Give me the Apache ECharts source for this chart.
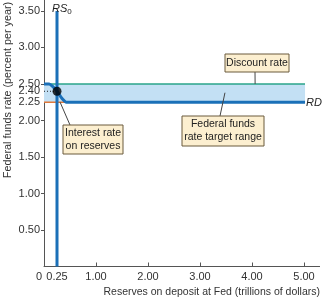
<!DOCTYPE html>
<html><head><meta charset="utf-8">
<script src="https://cdn.jsdelivr.net/npm/echarts@6/dist/echarts.min.js"></script>
<style>html,body{margin:0;padding:0;background:#fff}#c{width:325px;height:300px}</style>
</head><body><div id="c"></div>
<script>
// ---- data ----
const xTickValues = [0, 0.25, 1, 2, 3, 4, 5];
const xMinorTicks = [1, 2, 3, 4, 5];
const yTickValues = [0.5, 1, 1.5, 2, 2.25, 2.4, 2.5, 3, 3.5];
const yMajorTicks = [0.5, 1, 1.5, 2, 2.5, 3, 3.5];
const rdCurve = [[0, 2.5], [0.1, 2.5], [0.16, 2.47], [0.25, 2.40], [0.36, 2.29], [0.43, 2.25], [5.02, 2.25]];
const rsLine = [[0.25, 0], [0.25, 3.5]];
const discountLine = [[0, 2.5], [5.02, 2.5]];
const iorLine = [[0, 2.25], [0.43, 2.25]];
const targetRange = [2.25, 2.5];
const targetRangeX = [0, 5.02];
const equilibrium = [0.25, 2.40];
const dottedGuide = [[0, 2.40], [0.25, 2.40]];

const FONT = 'Liberation Sans';
const BLUE = '#1b70b8';
const chart = echarts.init(document.getElementById('c'));

const option = {
  animation: false,
  grid: { left: 44, right: 5.4, top: 0, bottom: 33.5 },
  xAxis: {
    type: 'value', min: 0, max: 5.3,
    axisLine: { lineStyle: { color: '#555', width: 1 } },
    splitLine: { show: false },
    axisTick: { inside: true, length: 4, customValues: xMinorTicks, lineStyle: { color: '#555' } },
    axisLabel: {
      customValues: xTickValues, margin: 5, color: '#333', fontFamily: FONT, fontSize: 11,
      formatter: v => v === 0 ? '{z|0}' : v.toFixed(2),
      rich: { z: { padding: [0, 10, 0, 0], fontFamily: FONT, fontSize: 11, color: '#333' } }
    }
  },
  yAxis: {
    type: 'value', min: 0, max: 3.65,
    axisLine: { show: true, lineStyle: { color: '#555', width: 1 } },
    splitLine: { show: false },
    axisTick: { show: true, length: 3, customValues: yMajorTicks, lineStyle: { color: '#555' } },
    axisLabel: { customValues: yTickValues, margin: 4, color: '#333', fontFamily: FONT, fontSize: 11,
      formatter: v => v.toFixed(2) }
  },
  series: [
    { type: 'line', data: discountLine, symbol: 'none', lineStyle: { color: '#2aa58a', width: 1.5 }, z: 3,
      markArea: { silent: true, itemStyle: { color: '#c3e0f4' },
        data: [[{ xAxis: targetRangeX[0], yAxis: targetRange[0] }, { xAxis: targetRangeX[1], yAxis: targetRange[1] }]] } },
    { type: 'line', data: iorLine, symbol: 'none', lineStyle: { color: '#e0793a', width: 1.5 }, z: 3 },
    { type: 'line', data: dottedGuide, symbol: 'none', lineStyle: { color: '#222', width: 1, type: [1, 2] }, z: 3 },
    { type: 'line', data: rdCurve, symbol: 'none', smooth: 0.2, lineStyle: { color: BLUE, width: 3 }, z: 4 },
    { type: 'line', data: rsLine, symbol: 'none', lineStyle: { color: BLUE, width: 3 }, z: 5 },
    { type: 'scatter', data: [equilibrium], symbolSize: 9, itemStyle: { color: '#000' }, z: 6 }
  ]
};
chart.setOption(option);

function px(p) { return chart.convertToPixel({ gridIndex: 0 }, p); }
function box(x, y, w, h, lines) {
  return {
    type: 'group', children: [
      { type: 'rect', shape: { x: x, y: y, width: w, height: h },
        style: { fill: '#fcefd0', stroke: '#6a5a3c', lineWidth: 1 }, z: 20 },
      { type: 'text', x: x + w / 2, y: y + h / 2, z: 21,
        style: { text: lines.join('\n'), fontFamily: FONT, fontSize: 10.5, lineHeight: 13,
          fill: '#222', align: 'center', verticalAlign: 'middle' } }
    ]
  };
}
function leader(a, b) {
  return { type: 'line', shape: { x1: a[0], y1: a[1], x2: b[0], y2: b[1] },
    style: { stroke: '#444', lineWidth: 1 }, z: 19 };
}
const dA = px([4.06, 2.5]);
const fA = px([3.48, 2.38]);
const iA = px([0.31, 2.25]);
const rsTop = px([0.25, 3.5]);
const rdEnd = px([5.02, 2.25]);

chart.setOption({
  graphic: [
    leader(dA, [255, 72]), box(225, 54, 64, 18, ['Discount rate']),
    leader(fA, [220, 116]), box(182, 116, 82, 30, ['Federal funds', 'rate target range']),
    leader(iA, [70, 125]), box(63, 125, 60, 29, ['Interest rate', 'on reserves']),
    { type: 'text', x: rsTop[0] - 5, y: 1, z: 22,
      style: { text: '{i|RS}{s|0}', rich: {
        i: { fontFamily: FONT, fontSize: 11, fontStyle: 'italic', fill: '#222' },
        s: { fontFamily: FONT, fontSize: 8, fill: '#222', padding: [7, 0, 0, 0] } } } },
    { type: 'text', x: rdEnd[0] + 1, y: rdEnd[1] + 1, z: 22,
      style: { text: 'RD', fontFamily: FONT, fontSize: 11, fontStyle: 'italic', fill: '#222', verticalAlign: 'middle' } },
    { type: 'text', x: 8, y: 90, rotation: Math.PI / 2, z: 22,
      style: { text: 'Federal funds rate (percent per year)', fontFamily: FONT, fontSize: 10.8, fill: '#333',
        align: 'center', verticalAlign: 'middle' } },
    { type: 'text', x: 320, y: 292, z: 22,
      style: { text: 'Reserves on deposit at Fed (trillions of dollars)', fontFamily: FONT, fontSize: 10.5, fill: '#333',
        align: 'right', verticalAlign: 'middle' } }
  ]
});
</script></body></html>
